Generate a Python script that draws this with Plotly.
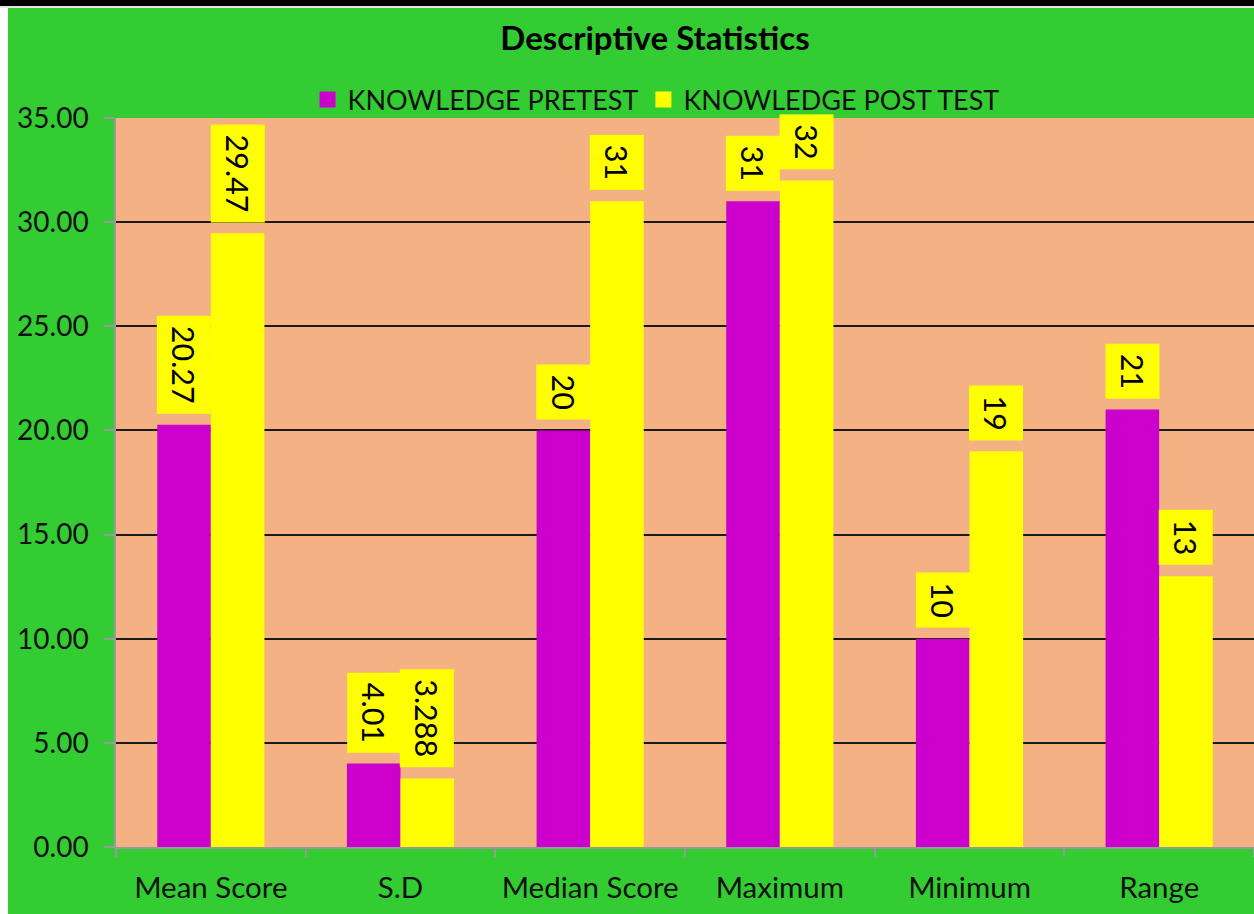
import plotly.graph_objects as go

categories = ["Mean Score", "S.D", "Median Score", "Maximum", "Minimum", "Range"]
pretest = [20.27, 4.01, 20, 31, 10, 21]
posttest = [29.47, 3.288, 31, 32, 19, 13]
series_names = ["KNOWLEDGE PRETEST", "KNOWLEDGE POST TEST"]
y_ticks = [0, 5, 10, 15, 20, 25, 30, 35]

W, H = 1254, 914
ML, MR, MT, MB = 116, 0, 118, 67
BARGAP = 0.435
GREEN = "#33CC33"
PEACH = "#F4B183"
MAGENTA = "#CC00CC"
YELLOW = "#FFFF00"
FONT = "Lato"

plot_w = W - ML - MR
plot_h = H - MT - MB
cat_w = plot_w / len(categories)
bar_w = cat_w * (1 - BARGAP) / 2

fig = go.Figure()
fig.add_bar(x=categories, y=pretest, name=series_names[0], marker_color=MAGENTA,
            marker_line_width=0, hoverinfo="skip", showlegend=False)
fig.add_bar(x=categories, y=posttest, name=series_names[1], marker_color=YELLOW,
            marker_line_width=0, hoverinfo="skip", showlegend=False)
# legend entries with larger square swatches
for name, col in zip(series_names, (MAGENTA, YELLOW)):
    fig.add_scatter(x=[None], y=[None], mode="markers", name=name,
                    marker=dict(symbol="square", size=20, color=col, line_width=0),
                    hoverinfo="skip", showlegend=True)

annotations = []
PAD = 10
for vals, sign in ((pretest, -1), (posttest, 1)):
    for c, v in zip(categories, vals):
        annotations.append(dict(
            x=c, y=v, xref="x", yref="y", text=str(v), showarrow=False,
            textangle=90, xanchor="center", yanchor="bottom",
            xshift=sign * bar_w / 2, yshift=11,
            bgcolor=YELLOW, borderpad=PAD, borderwidth=0,
            height=bar_w - 2 * PAD,
            font=dict(family=FONT, size=30.5, color="#000000"),
        ))

# frame decorations outside plot area (paper coords relative to plot domain)
def px_to_paper_x(px):
    return (px - ML) / plot_w

def px_to_paper_y(py):
    return (H - MB - py) / plot_h

shapes = [
    dict(type="rect", xref="paper", yref="paper",
         x0=px_to_paper_x(0), x1=px_to_paper_x(8), y0=px_to_paper_y(H), y1=px_to_paper_y(0),
         fillcolor="#FFFFFF", line_width=0, layer="below"),
    dict(type="rect", xref="paper", yref="paper",
         x0=px_to_paper_x(0), x1=px_to_paper_x(W), y0=px_to_paper_y(8), y1=px_to_paper_y(0),
         fillcolor="#E8E8E8", line_width=0, layer="below"),
    dict(type="rect", xref="paper", yref="paper",
         x0=px_to_paper_x(0), x1=px_to_paper_x(W), y0=px_to_paper_y(6), y1=px_to_paper_y(0),
         fillcolor="#000000", line_width=0, layer="below"),
]

fig.update_layout(
    width=W, height=H,
    margin=dict(l=ML, r=MR, t=MT, b=MB, pad=0, autoexpand=False),
    paper_bgcolor=GREEN, plot_bgcolor=PEACH,
    barmode="group", bargap=BARGAP, bargroupgap=0,
    font=dict(family=FONT, size=28, color="#111111"),
    title=dict(text="Descriptive Statistics", x=655 / W, xanchor="center",
               y=1 - 38 / H, yanchor="middle", xref="container", yref="container",
               font=dict(family=FONT, size=33, color="#000000", weight="bold")),
    legend=dict(orientation="h", xref="container", yref="container",
                x=656 / W, xanchor="center", y=1 - 100 / H, yanchor="middle",
                font=dict(family=FONT, size=27, color="#111111"),
                bgcolor="rgba(0,0,0,0)", itemwidth=30, tracegroupgap=0,
                itemsizing="trace"),
    xaxis=dict(type="category", showgrid=False, showline=True, linecolor="#999999",
               linewidth=1.5, ticks="outside", tickson="boundaries", ticklen=8,
               tickcolor="#999999", tickwidth=1.5, ticklabelstandoff=14,
               tickfont=dict(family=FONT, size=29.5, color="#111111")),
    yaxis=dict(range=[0, 35], tickvals=y_ticks, tickformat=".2f", showgrid=True,
               gridcolor="#1A1A1A", gridwidth=1.5, zeroline=False, showline=True,
               linecolor="#999999", linewidth=1.5, ticks="outside", ticklen=10,
               tickcolor="#999999", tickwidth=1.5, ticklabelstandoff=10,
               tickfont=dict(family=FONT, size=28, color="#111111")),
    annotations=annotations,
    shapes=shapes,
)

fig.write_html("out.html")
